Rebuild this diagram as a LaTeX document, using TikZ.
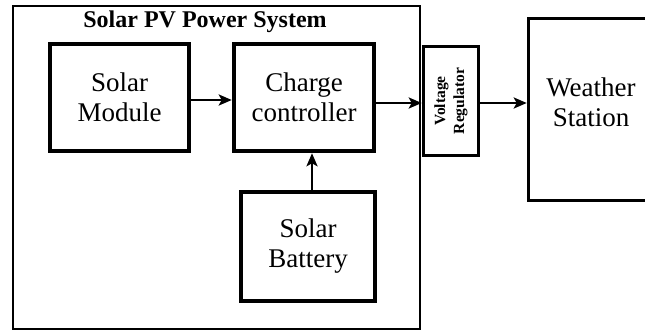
\documentclass[tikz,border=0pt]{standalone}
\usepackage{fontspec}
\setmainfont{Liberation Serif}
\usetikzlibrary{arrows.meta}
\begin{document}
\begin{tikzpicture}[x=1pt,y=-1pt,
    every node/.style={font=\fontsize{27}{30}\selectfont,align=center,inner sep=0pt},
    blk/.style={draw,line width=4.5pt},
    link/.style={line width=2.5pt,-{Stealth[length=13pt,width=11pt,inset=3pt]}}]
    \useasboundingbox (0,0) rectangle (645,332);
    \clip (0,0) rectangle (645,332);
    % Rahmen der PV-Anlage
    \draw[line width=2.5pt] (13,6) rectangle (420,329);
    \node[font=\fontsize{24}{27}\selectfont\bfseries] (title) at (205,22) {Solar PV Power System};
    \node[blk,minimum width=139pt,minimum height=107pt] (module) at (119.5,97.5) {Solar\\Module};
    \node[blk,minimum width=140pt,minimum height=107pt] (ctrl) at (304,97.5) {Charge\\controller};
    \node[blk,minimum width=134pt,minimum height=109pt] (batt) at (308,246.5) {Solar\\Battery};
    \node[blk,line width=3.5pt,minimum width=55pt,minimum height=109pt] (vreg) at (451,101) {};
    \node[rotate=90,font=\fontsize{15.5}{19}\selectfont\bfseries] at (vreg.center) {Voltage\\Regulator};
    \node[draw,line width=3.5pt,minimum width=130pt,minimum height=182pt] (wstation) at (593.5,109.5) {};
    \node at (591,102) {Weather\\Station};
    % Verbindungen
    \draw[link] (module.east |- 0,100) -- (ctrl.west |- 0,100);
    \draw[link] (ctrl.east |- 0,103) -- (vreg.west |- 0,103);
    \draw[link] (vreg.east |- 0,103) -- (wstation.west |- 0,103);
    \draw[link] ([xshift=4pt]batt.north) -- ([xshift=4pt]batt.north |- ctrl.south);
\end{tikzpicture}
\end{document}
